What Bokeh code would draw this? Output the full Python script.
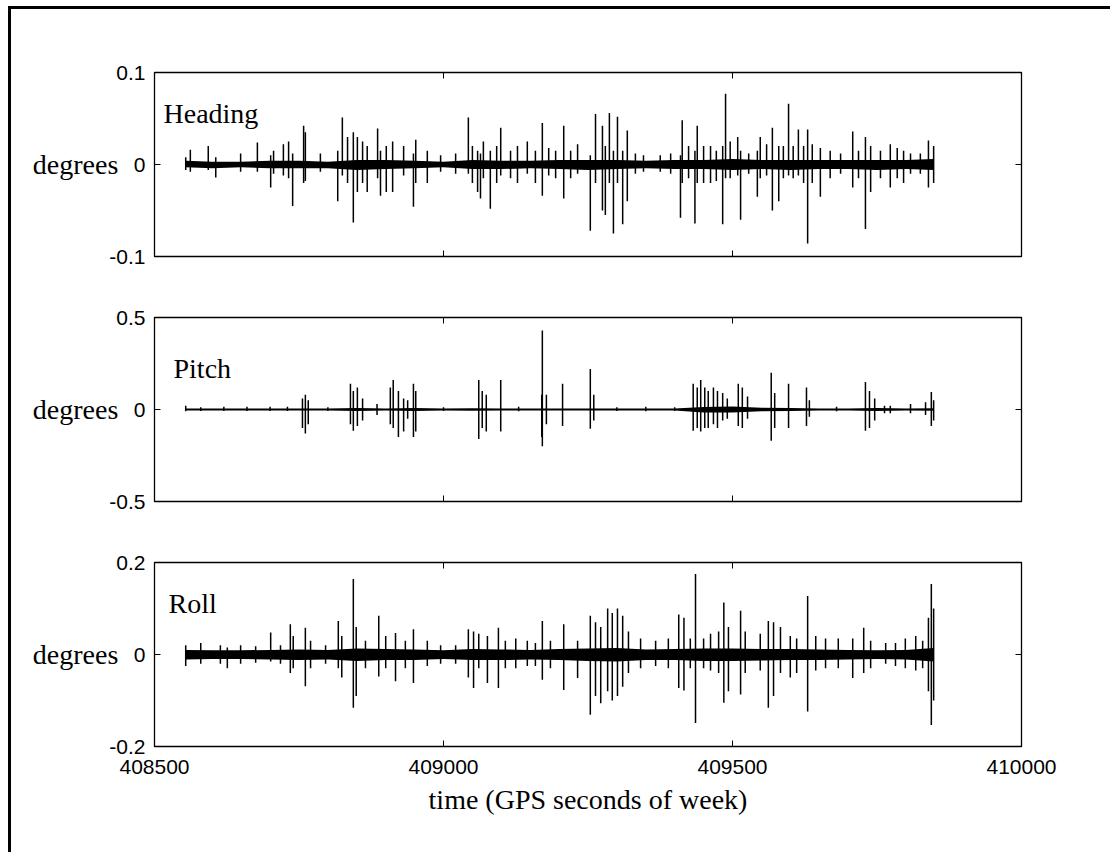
from bokeh.plotting import figure
from bokeh.models import FixedTicker, LinearAxis, Label, Range1d, ColumnDataSource
from bokeh.layouts import column
from bokeh.embed import file_html
from bokeh.resources import INLINE

# ---------------- data ----------------
x_ticks = [408500, 409000, 409500, 410000]
x_tick_labels = ["408500", "409000", "409500", "410000"]

# Heading (degrees): spike envelopes
heading_t = [408554, 408562, 408593, 408606, 408649, 408678, 408701, 408706, 408723, 408732,
             408739, 408758, 408761, 408787, 408817, 408825, 408834, 408844, 408851, 408860,
             408868, 408886, 408891, 408901, 408912, 408931, 408948, 408952, 408972, 408995,
             409021, 409043, 409050, 409059, 409064, 409069, 409081, 409092, 409099, 409116,
             409128, 409145, 409159, 409171, 409182, 409194, 409208, 409220, 409232, 409254,
             409263, 409275, 409280, 409287, 409294, 409301, 409310, 409318, 409332, 409346,
             409375, 409393, 409410, 409413, 409424, 409435, 409439, 409450, 409462, 409472,
             409483, 409488, 409496, 409509, 409514, 409528, 409543, 409548, 409559, 409569,
             409580, 409588, 409597, 409605, 409614, 409623, 409630, 409638, 409652, 409669,
             409687, 409708, 409718, 409730, 409739, 409756, 409773, 409785, 409796, 409808,
             409825, 409839, 409848]
heading_hi = [0.008, 0.016, 0.020, 0.008, 0.012, 0.024, 0.010, 0.015, 0.022, 0.025,
              0.012, 0.042, 0.035, 0.012, 0.015, 0.051, 0.030, 0.035, 0.030, 0.025,
              0.020, 0.039, 0.015, 0.020, 0.025, 0.020, 0.012, 0.027, 0.015, 0.010,
              0.012, 0.051, 0.020, 0.015, 0.012, 0.025, 0.015, 0.020, 0.040, 0.015,
              0.020, 0.025, 0.015, 0.045, 0.018, 0.015, 0.042, 0.015, 0.022, 0.010,
              0.055, 0.042, 0.020, 0.056, 0.015, 0.052, 0.015, 0.037, 0.012, 0.010,
              0.010, 0.012, 0.010, 0.048, 0.020, 0.015, 0.042, 0.020, 0.020, 0.015,
              0.020, 0.077, 0.025, 0.030, 0.015, 0.012, 0.015, 0.030, 0.022, 0.040,
              0.020, 0.020, 0.066, 0.020, 0.038, 0.020, 0.038, 0.022, 0.018, 0.015,
              0.012, 0.036, 0.015, 0.030, 0.020, 0.015, 0.022, 0.018, 0.015, 0.012,
              0.012, 0.026, 0.020]
heading_lo = [-0.006, -0.008, -0.006, -0.014, -0.008, -0.008, -0.025, -0.010, -0.012, -0.015,
              -0.045, -0.020, -0.018, -0.008, -0.040, -0.012, -0.020, -0.063, -0.030, -0.020,
              -0.030, -0.015, -0.034, -0.030, -0.030, -0.012, -0.046, -0.020, -0.020, -0.008,
              -0.010, -0.010, -0.020, -0.030, -0.037, -0.015, -0.048, -0.020, -0.012, -0.015,
              -0.020, -0.010, -0.020, -0.034, -0.012, -0.015, -0.037, -0.015, -0.010, -0.072,
              -0.020, -0.050, -0.055, -0.020, -0.075, -0.020, -0.065, -0.040, -0.010, -0.008,
              -0.008, -0.010, -0.058, -0.020, -0.015, -0.064, -0.020, -0.020, -0.020, -0.018,
              -0.065, -0.015, -0.015, -0.012, -0.060, -0.010, -0.035, -0.015, -0.012, -0.050,
              -0.040, -0.015, -0.012, -0.015, -0.012, -0.020, -0.086, -0.020, -0.035, -0.015,
              -0.010, -0.025, -0.015, -0.070, -0.030, -0.015, -0.025, -0.015, -0.020, -0.010,
              -0.010, -0.025, -0.020]

# dense band around zero, sampled every ~50 s
core_t = [408554, 408600, 408650, 408700, 408750, 408800, 408850, 408900, 408950, 409000,
          409050, 409100, 409150, 409200, 409250, 409300, 409350, 409400, 409450, 409500,
          409550, 409600, 409650, 409700, 409750, 409800, 409848]
heading_core_hi = [0.004, 0.003, 0.003, 0.004, 0.004, 0.003, 0.005, 0.005, 0.004, 0.003,
                   0.005, 0.004, 0.004, 0.005, 0.005, 0.005, 0.004, 0.005, 0.005, 0.006,
                   0.005, 0.005, 0.005, 0.005, 0.005, 0.005, 0.006]
heading_core_lo = [-0.003, -0.004, -0.003, -0.004, -0.004, -0.004, -0.006, -0.005, -0.004, -0.003,
                   -0.005, -0.005, -0.004, -0.005, -0.006, -0.005, -0.004, -0.005, -0.005, -0.006,
                   -0.005, -0.006, -0.005, -0.005, -0.006, -0.005, -0.006]

# Pitch (degrees)
pitch_t = [408554, 408580, 408620, 408660, 408700, 408730, 408756, 408761, 408766, 408800,
           408839, 408844, 408851, 408860, 408885, 408908, 408913, 408922, 408931, 408938,
           408948, 408952, 409000, 409061, 409067, 409074, 409099, 409130, 409170, 409171,
           409178, 409206, 409254, 409260, 409300, 409350, 409400, 409432, 409439, 409445,
           409452, 409458, 409467, 409474, 409483, 409491, 409510, 409517, 409526, 409567,
           409573, 409597, 409628, 409633, 409680, 409730, 409737, 409746, 409763, 409773,
           409808, 409834, 409844, 409848]
pitch_hi = [0.020, 0.012, 0.015, 0.015, 0.015, 0.015, 0.060, 0.080, 0.050, 0.012,
            0.140, 0.100, 0.120, 0.060, 0.030, 0.120, 0.160, 0.100, 0.060, 0.050,
            0.140, 0.100, 0.012, 0.160, 0.100, 0.080, 0.160, 0.015, 0.080, 0.430,
            0.080, 0.140, 0.220, 0.080, 0.012, 0.015, 0.012, 0.140, 0.120, 0.160,
            0.120, 0.100, 0.120, 0.100, 0.090, 0.060, 0.140, 0.120, 0.070, 0.200,
            0.090, 0.140, 0.120, 0.050, 0.015, 0.150, 0.100, 0.060, 0.020, 0.020,
            0.030, 0.040, 0.095, 0.050]
pitch_lo = [-0.010, -0.008, -0.008, -0.008, -0.008, -0.008, -0.100, -0.130, -0.080, -0.008,
            -0.080, -0.115, -0.090, -0.060, -0.030, -0.080, -0.100, -0.150, -0.120, -0.050,
            -0.150, -0.120, -0.008, -0.160, -0.100, -0.120, -0.120, -0.010, -0.150, -0.200,
            -0.080, -0.090, -0.105, -0.060, -0.008, -0.010, -0.008, -0.115, -0.100, -0.120,
            -0.100, -0.100, -0.080, -0.100, -0.060, -0.050, -0.090, -0.100, -0.050, -0.170,
            -0.100, -0.100, -0.090, -0.040, -0.010, -0.115, -0.100, -0.060, -0.020, -0.020,
            -0.020, -0.030, -0.090, -0.060]
pitch_core_hi = [0.006, 0.005, 0.005, 0.005, 0.006, 0.005, 0.008, 0.006, 0.008, 0.005,
                 0.007, 0.005, 0.005, 0.005, 0.005, 0.006, 0.005, 0.005, 0.014, 0.016,
                 0.010, 0.008, 0.005, 0.005, 0.008, 0.006, 0.007]
pitch_core_lo = [-0.006, -0.005, -0.005, -0.005, -0.006, -0.005, -0.008, -0.006, -0.008, -0.005,
                 -0.007, -0.005, -0.005, -0.005, -0.005, -0.006, -0.005, -0.005, -0.016, -0.016,
                 -0.010, -0.008, -0.005, -0.005, -0.008, -0.006, -0.007]

# Roll (degrees)
roll_t = [408554, 408580, 408614, 408626, 408649, 408675, 408701, 408718, 408735, 408740,
          408761, 408770, 408796, 408818, 408824, 408844, 408849, 408865, 408888, 408900,
          408917, 408934, 408948, 408972, 408995, 409021, 409043, 409052, 409061, 409076,
          409095, 409107, 409125, 409145, 409159, 409171, 409185, 409208, 409232, 409254,
          409263, 409272, 409284, 409292, 409301, 409310, 409320, 409341, 409367, 409389,
          409407, 409416, 409427, 409436, 409450, 409462, 409476, 409485, 409493, 409514,
          409522, 409548, 409562, 409571, 409583, 409600, 409611, 409630, 409644, 409661,
          409683, 409708, 409727, 409739, 409765, 409782, 409799, 409817, 409829, 409839,
          409844, 409848]
roll_hi = [0.020, 0.025, 0.020, 0.015, 0.020, 0.018, 0.048, 0.020, 0.066, 0.040,
           0.058, 0.030, 0.020, 0.073, 0.040, 0.164, 0.060, 0.030, 0.084, 0.040,
           0.047, 0.030, 0.055, 0.030, 0.020, 0.020, 0.055, 0.050, 0.045, 0.040,
           0.058, 0.030, 0.035, 0.030, 0.025, 0.073, 0.030, 0.066, 0.030, 0.084,
           0.070, 0.060, 0.100, 0.090, 0.100, 0.084, 0.050, 0.035, 0.030, 0.035,
           0.087, 0.080, 0.035, 0.175, 0.035, 0.045, 0.050, 0.113, 0.060, 0.095,
           0.050, 0.045, 0.073, 0.070, 0.060, 0.040, 0.035, 0.127, 0.040, 0.035,
           0.035, 0.035, 0.058, 0.030, 0.025, 0.025, 0.035, 0.040, 0.030, 0.080,
           0.153, 0.100]
roll_lo = [-0.025, -0.020, -0.020, -0.030, -0.020, -0.018, -0.015, -0.020, -0.040, -0.030,
           -0.069, -0.030, -0.020, -0.030, -0.050, -0.116, -0.090, -0.030, -0.048, -0.030,
           -0.058, -0.030, -0.062, -0.025, -0.020, -0.020, -0.050, -0.073, -0.030, -0.062,
           -0.073, -0.030, -0.030, -0.025, -0.025, -0.055, -0.030, -0.077, -0.051, -0.131,
           -0.090, -0.106, -0.080, -0.100, -0.090, -0.070, -0.040, -0.030, -0.025, -0.030,
           -0.073, -0.078, -0.030, -0.149, -0.030, -0.035, -0.040, -0.105, -0.080, -0.087,
           -0.040, -0.035, -0.116, -0.090, -0.040, -0.050, -0.040, -0.124, -0.035, -0.030,
           -0.030, -0.051, -0.040, -0.030, -0.020, -0.025, -0.030, -0.035, -0.030, -0.080,
           -0.153, -0.100]
roll_core_hi = [0.010, 0.009, 0.009, 0.010, 0.011, 0.010, 0.013, 0.012, 0.011, 0.009,
                0.012, 0.011, 0.010, 0.012, 0.013, 0.014, 0.011, 0.012, 0.013, 0.013,
                0.012, 0.012, 0.011, 0.010, 0.009, 0.010, 0.014]
roll_core_lo = [-0.011, -0.010, -0.010, -0.011, -0.012, -0.011, -0.014, -0.012, -0.012, -0.010,
                -0.012, -0.012, -0.011, -0.012, -0.014, -0.015, -0.012, -0.012, -0.014, -0.014,
                -0.013, -0.012, -0.012, -0.011, -0.010, -0.011, -0.015]

# ---------------- layout ----------------
SANS = "Liberation Sans"
SERIF = "Liberation Serif"
FRAME_W, FRAME_H = 867, 184


def style_axis(ax):
    ax.axis_line_color = None
    ax.major_tick_in = 6
    ax.major_tick_out = 0
    ax.major_tick_line_color = "black"
    ax.major_tick_line_width = 1
    ax.minor_tick_line_color = None
    ax.major_label_text_font = SANS
    ax.major_label_text_font_size = "21px"
    ax.major_label_text_color = "black"


def make_panel(name, lim, t, hi, lo, c_hi, c_lo, title_dx, title_dy, top, bottom, last):
    p = figure(frame_width=FRAME_W, frame_height=FRAME_H,
               x_range=Range1d(408500, 410000), y_range=Range1d(-lim, lim),
               x_axis_location=None, y_axis_location=None,
               output_backend="svg", toolbar_location=None,
               min_border_left=143, min_border_right=89,
               min_border_top=top, min_border_bottom=bottom)
    p.grid.visible = False
    p.outline_line_color = "black"
    p.outline_line_width = 1.3
    p.background_fill_color = "white"
    p.border_fill_color = "white"

    yt = [-lim, 0, lim]
    for loc in ("left", "right"):
        ax = LinearAxis(ticker=FixedTicker(ticks=yt))
        style_axis(ax)
        if loc == "left":
            ax.major_label_overrides = {-lim: "-%g" % lim, 0: "0", lim: "%g" % lim}
            ax.major_label_standoff = 9
            ax.axis_label = "degrees"
            ax.axis_label_orientation = "horizontal"
            ax.axis_label_text_font = SERIF
            ax.axis_label_text_font_style = "normal"
            ax.axis_label_text_font_size = "28px"
            ax.axis_label_text_color = "black"
            ax.axis_label_standoff = -12
        else:
            ax.major_label_overrides = {v: "" for v in yt}
        p.add_layout(ax, loc)
    for loc in ("above", "below"):
        ax = LinearAxis(ticker=FixedTicker(ticks=x_ticks))
        show = last and loc == "below"
        style_axis(ax)
        if show:
            ax.major_label_overrides = dict(zip(x_ticks, x_tick_labels))
            ax.major_label_standoff = 13
            ax.axis_label = "time (GPS seconds of week)"
            ax.axis_label_text_font = SERIF
            ax.axis_label_text_font_style = "normal"
            ax.axis_label_text_font_size = "28px"
            ax.axis_label_text_color = "black"
            ax.axis_label_standoff = 7
        else:
            ax.major_label_overrides = {v: "" for v in x_ticks}
        p.add_layout(ax, loc)

    core = ColumnDataSource(dict(t=core_t, hi=c_hi, lo=c_lo))
    p.varea(x="t", y1="lo", y2="hi", source=core, fill_color="black")
    src = ColumnDataSource(dict(t=t, hi=hi, lo=lo))
    p.segment(x0="t", y0="lo", x1="t", y1="hi", source=src,
              line_color="black", line_width=1.5)

    p.add_layout(Label(x=title_dx, y=title_dy, x_units="screen", y_units="screen",
                       text=name, text_font=SERIF, text_font_size="28px",
                       text_color="black", text_baseline="alphabetic"))
    return p


p1 = make_panel("Heading", 0.1, heading_t, heading_hi, heading_lo,
                heading_core_hi, heading_core_lo, 9, 143, 63, 30, False)
p2 = make_panel("Pitch", 0.5, pitch_t, pitch_hi, pitch_lo,
                pitch_core_hi, pitch_core_lo, 19, 133, 31, 30, False)
p3 = make_panel("Roll", 0.2, roll_t, roll_hi, roll_lo,
                roll_core_hi, roll_core_lo, 14, 143, 31, 106, True)

layout = column(p1, p2, p3, spacing=0,
                styles={"border-top": "3px solid black", "border-left": "3px solid black",
                        "margin-left": "8px", "margin-top": "6px",
                        "background-color": "white"})

open("out.html", "w").write(file_html(layout, INLINE))
